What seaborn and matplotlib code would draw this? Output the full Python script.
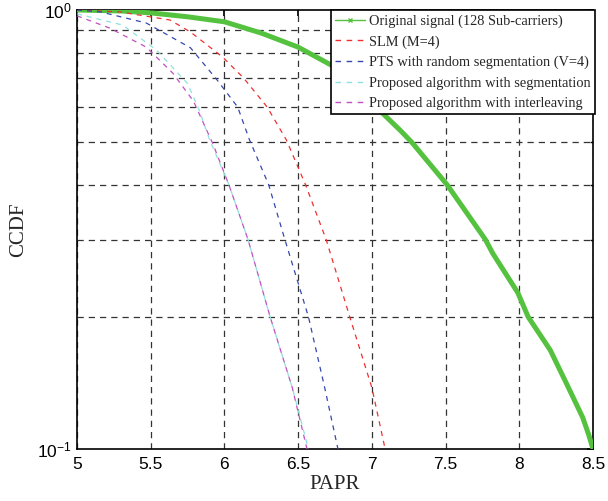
import matplotlib
matplotlib.use("Agg")
import matplotlib.pyplot as plt
import seaborn as sns
import pandas as pd
import numpy as np
from matplotlib.lines import Line2D
from matplotlib.ticker import NullFormatter, FixedLocator

# ---- data ----
orig_x = [5.0, 5.3, 5.5, 5.75, 6.0, 6.25, 6.5, 6.75, 7.0, 7.1, 7.19, 7.27, 7.51, 7.77, 7.82, 7.99, 8.06, 8.21, 8.32, 8.43, 8.47, 8.5]
orig_y = [1.0, 0.995, 0.985, 0.965, 0.94, 0.886, 0.823, 0.741, 0.615, 0.57, 0.533, 0.50, 0.40, 0.30, 0.279, 0.227, 0.20, 0.168, 0.141, 0.118, 0.108, 0.10]

slm_x = [5.0, 5.29, 5.63, 5.77, 5.99, 6.13, 6.29, 6.42, 6.55, 6.69, 6.85, 7.0, 7.09]
slm_y = [1.0, 0.99, 0.949, 0.891, 0.78, 0.70, 0.601, 0.506, 0.40, 0.30, 0.20, 0.138, 0.10]

pts_x = [5.0, 5.16, 5.47, 5.77, 5.95, 6.09, 6.17, 6.30, 6.41, 6.57, 6.68, 6.77]
pts_y = [1.0, 0.99, 0.934, 0.82, 0.693, 0.601, 0.506, 0.40, 0.30, 0.20, 0.138, 0.10]

seg_x = [5.0, 5.31, 5.54, 5.75, 5.83, 5.90, 6.03, 6.16, 6.31, 6.46, 6.57]
seg_y = [0.98, 0.924, 0.81, 0.68, 0.59, 0.506, 0.40, 0.30, 0.20, 0.138, 0.10]

int_x = [5.0, 5.22, 5.47, 5.65, 5.79, 5.92, 6.03, 6.16, 6.31, 6.46, 6.56]
int_y = [0.97, 0.91, 0.823, 0.718, 0.62, 0.497, 0.40, 0.30, 0.20, 0.138, 0.10]

labels = ["Original signal (128 Sub-carriers)", "SLM (M=4)",
          "PTS with random segmentation (V=4)",
          "Proposed algorithm with segmentation",
          "Proposed algorithm with interleaving"]
colors = ["#55c23f", "#f03030", "#3548b0", "#8fe0dc", "#c050c0"]

x_ticks = [5, 5.5, 6, 6.5, 7, 7.5, 8, 8.5]

# ---- figure ----
sns.set_theme(style="white")
plt.rcParams["font.family"] = ["Liberation Sans", "DejaVu Sans"]
fig = plt.figure(figsize=(6.08, 5.01), dpi=100)
ax = fig.add_axes([77/608, 1-449/501, (593-77)/608, (449-10)/501])

series = [(orig_x, orig_y), (slm_x, slm_y), (pts_x, pts_y), (seg_x, seg_y), (int_x, int_y)]
for i, ((xs, ys), lab, c) in enumerate(zip(series, labels, colors)):
    df = pd.DataFrame({"PAPR": xs, "CCDF": ys})
    if i == 0:
        sns.lineplot(data=df, x="PAPR", y="CCDF", ax=ax, color=c, lw=3.6,
                     estimator=None, sort=False, zorder=3)
    else:
        sns.lineplot(data=df, x="PAPR", y="CCDF", ax=ax, color=c, lw=0.9,
                     dashes=False, linestyle=(0, (4, 4)),
                     estimator=None, sort=False, zorder=3)

ax.set_yscale("log")
ax.set_xlim(5, 8.5)
ax.set_ylim(0.1, 1.0)
ax.set_xticks(x_ticks)
ax.set_xticklabels([f"{t:g}" for t in x_ticks])
ax.yaxis.set_major_locator(FixedLocator([0.1, 1.0]))
ax.yaxis.set_minor_locator(FixedLocator([0.2, 0.3, 0.4, 0.5, 0.6, 0.7, 0.8, 0.9]))
ax.yaxis.set_minor_formatter(NullFormatter())

ax.tick_params(axis="both", which="both", direction="in", top=True, right=True,
               labelsize=12.5, colors="black", length=4)
ax.tick_params(axis="y", which="minor", length=2.5)
ax.tick_params(axis="x", pad=6)
ax.tick_params(axis="y", pad=4)

ax.grid(True, axis="x", which="major", color="0.2", lw=0.9, ls=(0, (5, 4)))
ax.grid(True, axis="y", which="minor", color="0.2", lw=0.9, ls=(0, (5, 4)))
for s in ax.spines.values():
    s.set_color("black")
    s.set_linewidth(1.2)

ax.set_xlabel("PAPR", family="Liberation Serif", fontsize=15, labelpad=2)
ax.set_ylabel("CCDF", family="Liberation Serif", fontsize=15, labelpad=6)

handles = [Line2D([], [], color=colors[0], lw=1, marker="x", markersize=3)]
for c in colors[1:]:
    handles.append(Line2D([], [], color=c, lw=1, ls=(0, (4, 4))))
leg = ax.legend(handles, labels, loc="upper right", bbox_to_anchor=(1.004, 1.0),
                borderaxespad=0, fancybox=False, framealpha=1, edgecolor="black",
                prop={"family": "Liberation Serif", "size": 10.4},
                handlelength=2.1, handletextpad=0.25, labelspacing=0.5, borderpad=0.3)
leg.get_frame().set_linewidth(1.2)
leg.set_zorder(5)

fig.savefig("out.png", dpi=100)
